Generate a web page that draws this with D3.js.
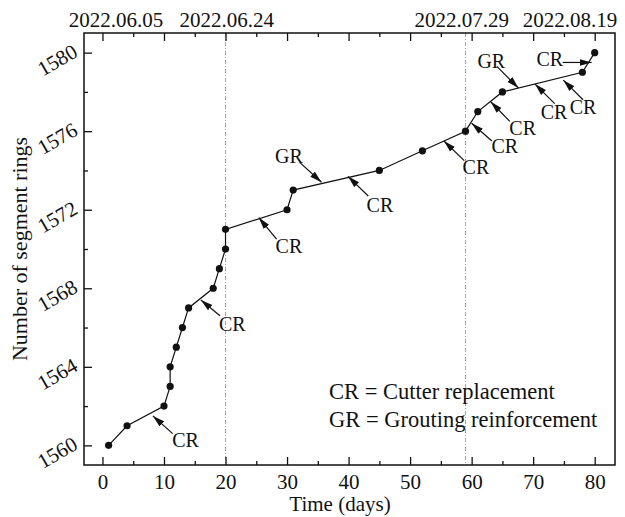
<!DOCTYPE html>
<html lang="en">
<head>
    <meta charset="UTF-8">
    <script src="https://d3js.org/d3.v7.min.js"></script>
    <style>
        body { margin: 0; background: #fff; }
        text { font-family: "Liberation Serif", "Times New Roman", serif; fill: #111; }
    </style>
</head>
<body>
    <svg id="chart" width="625" height="517"></svg>

    <script>
        // data
        const days  = [1, 4, 10, 11, 11, 12, 13, 14, 18, 19, 20, 20, 30, 31, 45, 52, 59, 61, 65, 78, 80];
        const rings = [1560, 1561, 1562, 1563, 1564, 1565, 1566, 1567, 1568, 1569, 1570, 1571,
                       1572, 1573, 1574, 1575, 1576, 1577, 1578, 1579, 1580];

        const xTicks = [0, 10, 20, 30, 40, 50, 60, 70, 80];
        const xMinor = [5, 15, 25, 35, 45, 55, 65, 75];
        const yTicks = [1560, 1564, 1568, 1572, 1576, 1580];
        const yMinor = [1562, 1566, 1570, 1574, 1578];

        const topDates = ["2022.06.05", "2022.06.24", "2022.07.29", "2022.08.19"];
        const topDateDays = [2.2, 20.2, 58.4, 76];
        const markerDays = [20, 59];

        // annotations: arrow head (on the line), arrow tail, label (centre / baseline)
        const annText      = ["CR", "CR", "CR", "GR", "CR", "CR", "CR", "CR", "GR", "CR", "CR", "CR"];
        const annHeadDay   = [8.2, 16.0, 25.4, 35.6, 39.9, 55.5, 60.0, 63.1, 67.6, 70.3, 74.9, 79.5];
        const annHeadRing  = [1561.5, 1567.4, 1571.6, 1573.4, 1573.7, 1575.5, 1576.4, 1577.5, 1578.2, 1578.4, 1578.6, 1579.5];
        const annTailDay   = [11.4, 19.1, 28.3, 32.1, 43.2, 58.8, 63.3, 66.2, 64.1, 73.5, 78.1, 74.8];
        const annTailRing  = [1560.6, 1566.6, 1570.5, 1574.4, 1572.7, 1574.5, 1575.5, 1576.5, 1579.3, 1577.4, 1577.6, 1579.5];
        const annLabelDay  = [13.5, 21.1, 30.3, 30.3, 45.1, 60.7, 65.4, 68.3, 63.2, 73.4, 78.1, 72.7];
        const annLabelRing = [1559.9, 1565.8, 1569.8, 1574.4, 1571.9, 1573.8, 1574.9, 1575.8, 1579.2, 1576.6, 1576.9, 1579.3];

        const legendLines = ["CR = Cutter replacement", "GR = Grouting reinforcement"];

        const svg = d3.select("#chart");
        const mLeft = 84, mRight = 615, mTop = 33, mBottom = 465;

        const x = d3.scaleLinear().domain([-3, 83.3]).range([mLeft, mRight]);
        const y = d3.scaleLinear().domain([1559, 1581]).range([mBottom, mTop]);

        svg.append("rect").attr("width", 625).attr("height", 517).attr("fill", "#fff");

        // arrow head marker
        svg.append("defs").append("marker")
            .attr("id", "arr")
            .attr("markerUnits", "userSpaceOnUse")
            .attr("markerWidth", 12).attr("markerHeight", 8)
            .attr("refX", 12).attr("refY", 4)
            .attr("orient", "auto")
            .append("path")
            .attr("d", "M0,0.6 L12,4 L0,7.4 Z")
            .attr("fill", "#111");

        // dashed vertical markers
        svg.selectAll(".vline")
            .data(markerDays)
            .enter().append("line")
            .attr("class", "vline")
            .attr("x1", d => x(d)).attr("x2", d => x(d))
            .attr("y1", mTop).attr("y2", mBottom)
            .attr("stroke", "#999")
            .attr("stroke-width", 0.9)
            .attr("stroke-dasharray", "4,2,1,2");

        // axes (ticks point inward)
        function styleAxis(g) {
            g.select(".domain").remove();
            g.selectAll(".tick line").attr("stroke", "#111").attr("stroke-width", 1.3);
        }

        svg.append("g").attr("transform", `translate(0,${mBottom})`)
            .call(d3.axisBottom(x).tickValues(xTicks).tickSize(-8).tickPadding(9))
            .call(styleAxis)
            .call(g => g.selectAll("text").attr("font-size", 21).attr("font-family", "Liberation Serif"));
        svg.append("g").attr("transform", `translate(0,${mBottom})`)
            .call(d3.axisBottom(x).tickValues(xMinor).tickSize(-4).tickFormat(""))
            .call(styleAxis);

        svg.append("g").attr("transform", `translate(0,${mTop})`)
            .call(d3.axisTop(x).tickValues(xTicks).tickSize(-8).tickFormat(""))
            .call(styleAxis);
        svg.append("g").attr("transform", `translate(0,${mTop})`)
            .call(d3.axisTop(x).tickValues(xMinor).tickSize(-4).tickFormat(""))
            .call(styleAxis);

        svg.append("g").attr("transform", `translate(${mLeft},0)`)
            .call(d3.axisLeft(y).tickValues(yTicks).tickSize(-8).tickFormat(""))
            .call(styleAxis);
        svg.append("g").attr("transform", `translate(${mLeft},0)`)
            .call(d3.axisLeft(y).tickValues(yMinor).tickSize(-4).tickFormat(""))
            .call(styleAxis);

        // slanted y tick labels
        svg.selectAll(".ylab")
            .data(yTicks)
            .enter().append("text")
            .attr("class", "ylab")
            .attr("text-anchor", "end")
            .attr("font-size", 21)
            .attr("transform", d => `translate(${mLeft - 5},${y(d) + 3}) rotate(-30)`)
            .text(d => d);

        // top date labels
        svg.selectAll(".tlab")
            .data(topDates)
            .enter().append("text")
            .attr("class", "tlab")
            .attr("text-anchor", "middle")
            .attr("font-size", 21)
            .attr("x", (d, i) => x(topDateDays[i]))
            .attr("y", 27)
            .text(d => d);

        // frame
        svg.append("rect")
            .attr("x", mLeft).attr("y", mTop)
            .attr("width", mRight - mLeft).attr("height", mBottom - mTop)
            .attr("fill", "none").attr("stroke", "#111").attr("stroke-width", 1.5);

        // axis titles
        svg.append("text")
            .attr("x", 340).attr("y", 511)
            .attr("text-anchor", "middle").attr("font-size", 21)
            .text("Time (days)");
        svg.append("text")
            .attr("transform", `translate(27,${(mTop + mBottom) / 2}) rotate(-90)`)
            .attr("text-anchor", "middle").attr("font-size", 22)
            .text("Number of segment rings");

        // series line + points
        const pts = days.map((d, i) => [d, rings[i]]);
        svg.append("path")
            .datum(pts)
            .attr("fill", "none")
            .attr("stroke", "#111")
            .attr("stroke-width", 1.2)
            .attr("d", d3.line().x(d => x(d[0])).y(d => y(d[1])));
        svg.selectAll(".pt")
            .data(pts)
            .enter().append("circle")
            .attr("class", "pt")
            .attr("cx", d => x(d[0])).attr("cy", d => y(d[1]))
            .attr("r", 3.6)
            .attr("fill", "#111");

        // annotations
        const ann = annText.map((t, i) => ({ t, i }));
        svg.selectAll(".ann")
            .data(ann)
            .enter().append("line")
            .attr("class", "ann")
            .attr("x1", d => x(annTailDay[d.i])).attr("y1", d => y(annTailRing[d.i]))
            .attr("x2", d => x(annHeadDay[d.i])).attr("y2", d => y(annHeadRing[d.i]))
            .attr("stroke", "#111")
            .attr("stroke-width", 1.2)
            .attr("marker-end", "url(#arr)");
        svg.selectAll(".annlab")
            .data(ann)
            .enter().append("text")
            .attr("class", "annlab")
            .attr("text-anchor", "middle")
            .attr("font-size", 20)
            .attr("x", d => x(annLabelDay[d.i]))
            .attr("y", d => y(annLabelRing[d.i]))
            .text(d => d.t);

        // legend text
        svg.selectAll(".leg")
            .data(legendLines)
            .enter().append("text")
            .attr("class", "leg")
            .attr("x", 329)
            .attr("y", (d, i) => 399 + i * 28)
            .attr("font-size", 22.5)
            .text(d => d);
    </script>
</body>
</html>
